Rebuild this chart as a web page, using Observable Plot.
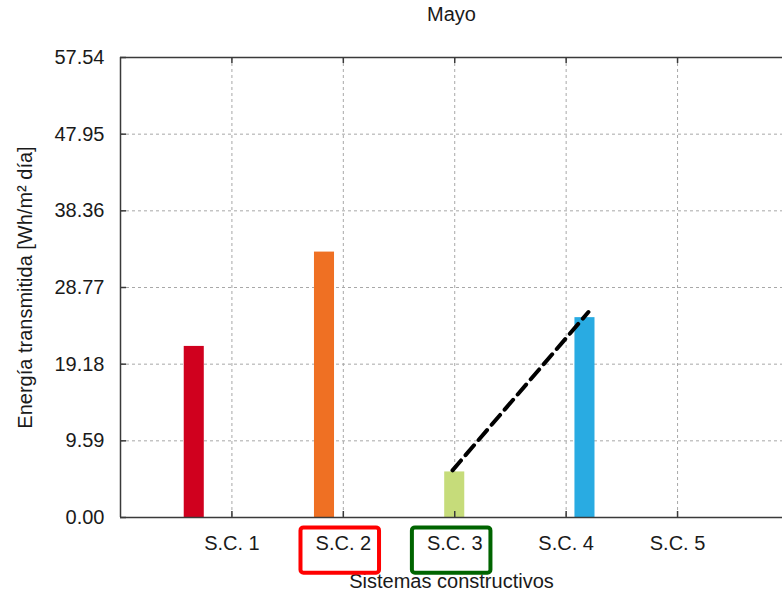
<!DOCTYPE html>
<html>
<head>
<meta charset="utf-8">
<script src="https://cdn.jsdelivr.net/npm/d3@7"></script>
<script src="https://cdn.jsdelivr.net/npm/@observablehq/plot@0.6"></script>
<style>
  html, body { margin: 0; padding: 0; background: white; }
</style>
</head>
<body>
<div id="chart"></div>
<script>
const title = "Mayo";
const xLabel = "Sistemas constructivos";
const yLabel = "Energía transmitida [Wh/m² día]";
const categories = ["S.C. 1", "S.C. 2", "S.C. 3", "S.C. 4", "S.C. 5"];
const values = [21.4, 33.2, 5.7, 25.0, 0];
const colors = ["#d0001e", "#ef7023", "#c6dc7a", "#29abe2", "#7f3f98"];
const yTicks = [0, 9.59, 19.18, 28.77, 38.36, 47.95, 57.54];
const trendX = [2.98, 4.20];
const trendY = [5.9, 25.7];
const highlighted = ["S.C. 2", "S.C. 3"];
const highlightColors = ["#ff0000", "#006400"];

const FONT = "'Liberation Sans', Arial, Helvetica, sans-serif";
const TEXT = "#1a1a1a";
const AXIS = "#3a3a3a";
const GRID = "#a8a8a8";

const pos = categories.map((c, i) => i + 1);
const step = 0.169, barW = 0.18;
const bars = categories.map((c, i) => ({
  cat: c, value: values[i], color: colors[i],
  center: pos[i] + (i - 2) * step
})).filter(d => d.value > 0);
const trend = trendX.map((x, i) => ({x, y: trendY[i]}));
const boxes = highlighted.map((c, k) => ({cat: c, p: categories.indexOf(c) + 1, color: highlightColors[k]}));
const yMax = yTicks[yTicks.length - 1];

const chart = Plot.plot({
  width: 782,
  height: 593,
  marginLeft: 120,
  marginRight: 0,
  marginTop: 57,
  marginBottom: 76,
  x: {domain: [0, 5.942], axis: null},
  y: {domain: [0, yMax], axis: null},
  color: {type: "identity"},
  style: {fontFamily: FONT, background: "white"},
  marks: [
    Plot.ruleY(yTicks.filter(d => d > 0 && d < yMax), {stroke: GRID, strokeWidth: 1, strokeDasharray: "3,3"}),
    Plot.ruleX(pos, {stroke: GRID, strokeWidth: 1, strokeDasharray: "3,3"}),
    Plot.rectY(bars, {x1: d => d.center - barW / 2, x2: d => d.center + barW / 2, y1: 0, y2: "value", fill: "color"}),
    Plot.line(trend, {x: "x", y: "y", stroke: "black", strokeWidth: 4, strokeDasharray: "13,7"}),
    Plot.ruleX([0], {stroke: AXIS, strokeWidth: 1.5}),
    Plot.ruleY([0, yMax], {stroke: AXIS, strokeWidth: 1.5}),
    Plot.ruleX(pos, {y1: 0, y2: 0.75, stroke: AXIS, strokeWidth: 1.5}),
    Plot.ruleX(pos, {y1: yMax - 0.75, y2: yMax, stroke: AXIS, strokeWidth: 1.5}),
    Plot.ruleY(yTicks, {x1: 0, x2: 0.054, stroke: AXIS, strokeWidth: 1.5}),
    Plot.text(yTicks, {x: 0, y: d => d, text: d => d.toFixed(2), textAnchor: "end", lineAnchor: "middle", dx: -16, fontSize: 20, fill: TEXT}),
    Plot.text(categories, {x: (d, i) => pos[i], text: d => d, frameAnchor: "bottom", lineAnchor: "middle", dy: 26, fontSize: 20, fill: TEXT}),
    Plot.text([title], {text: d => d, frameAnchor: "top", lineAnchor: "middle", dy: -43, fontSize: 20, fill: TEXT}),
    Plot.text([xLabel], {text: d => d, frameAnchor: "bottom", lineAnchor: "middle", dy: 64, fontSize: 20, fill: TEXT}),
    Plot.text([yLabel], {text: d => d, frameAnchor: "left", textAnchor: "middle", lineAnchor: "middle", dx: -95, rotate: -90, fontSize: 20, fill: TEXT}),
    Plot.rect(boxes, {x1: d => d.p - 0.38, x2: d => d.p + 0.325, y1: -1.3, y2: -6.96, fill: "none", stroke: "color", strokeWidth: 4, rx: 3})
  ]
});
document.getElementById("chart").appendChild(chart);
</script>
</body>
</html>
